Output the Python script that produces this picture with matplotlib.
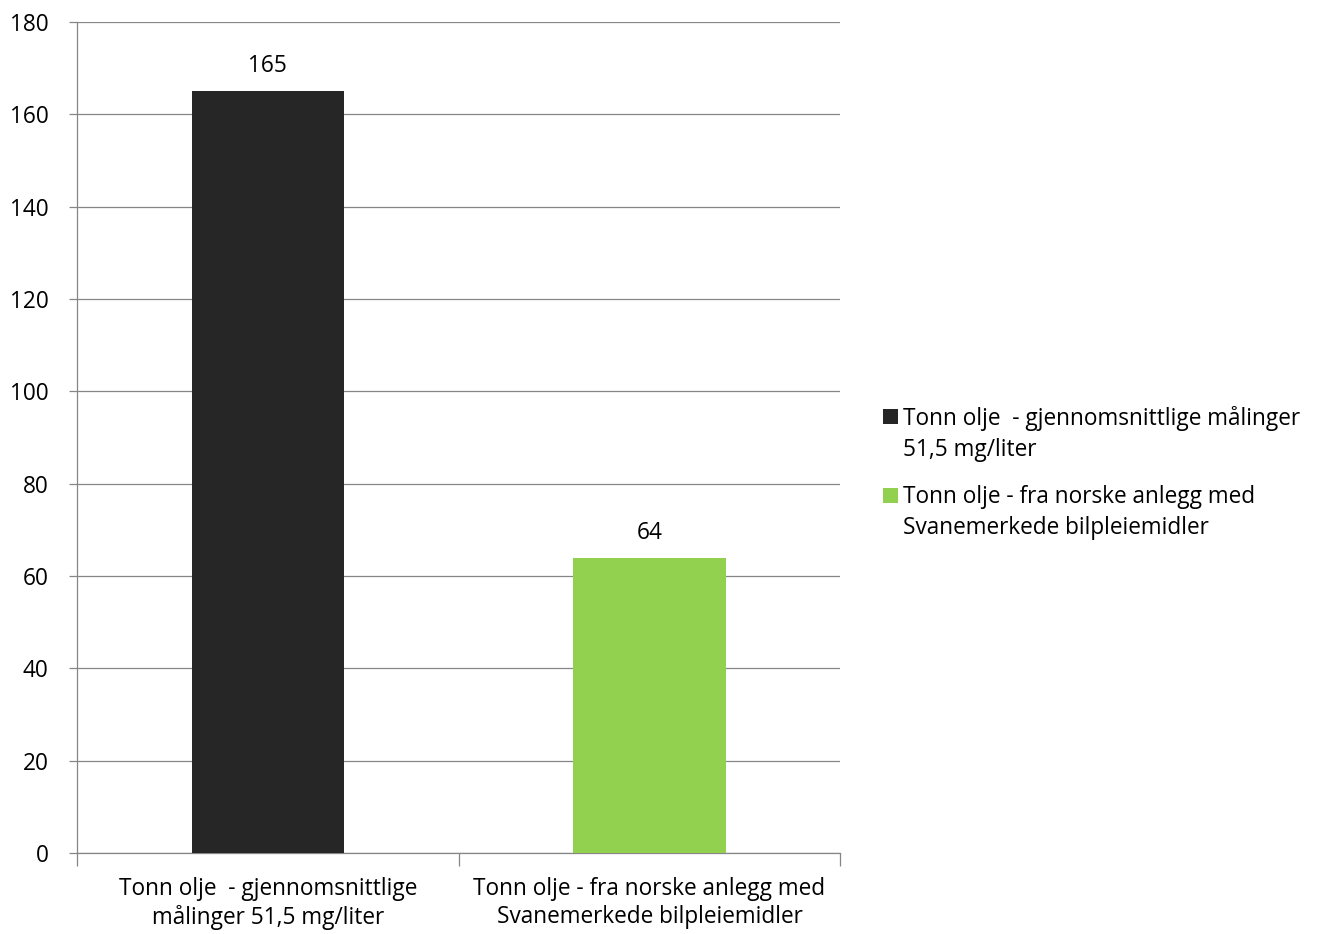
import matplotlib
matplotlib.use("Agg")
import matplotlib.pyplot as plt
from matplotlib.patches import Rectangle

plt.rcParams["font.family"] = ["Open Sans", "DejaVu Sans"]

# data
categories = ["Tonn olje  - gjennomsnittlige\nmålinger 51,5 mg/liter",
              "Tonn olje - fra norske anlegg med\nSvanemerkede bilpleiemidler"]
legend_labels = ["Tonn olje  - gjennomsnittlige målinger\n51,5 mg/liter",
                 "Tonn olje - fra norske anlegg med\nSvanemerkede bilpleiemidler"]
values = [165, 64]
colors = ["#262626", "#92d050"]
yticks = [0, 20, 40, 60, 80, 100, 120, 140, 160, 180]

FS = 16.3
W, H = 1317, 934

fig = plt.figure(figsize=(W / 100, H / 100), dpi=100)
ax = fig.add_axes([0.0585, 0.0867, 0.5795, 0.8897])

x = list(range(len(values)))
bars = ax.bar(x, values, width=0.4, color=colors, zorder=3)
for b, v in zip(bars, values):
    ax.text(b.get_x() + b.get_width() / 2, v + 2.8, str(v),
            ha="center", va="bottom", fontsize=FS, color="black")

grid = "#868686"
ax.set_xlim(-0.5, 1.5)
ax.set_ylim(0, 180)
ax.set_yticks(yticks)
ax.yaxis.grid(True, color=grid, linewidth=0.9, zorder=0)
ax.set_xticks([-0.5, 0.5, 1.5])
ax.set_xticklabels([])
ax.set_xticks(x, minor=True)
ax.set_xticklabels(categories, minor=True, fontsize=FS, linespacing=1.25)
ax.tick_params(axis="x", which="minor", length=0, pad=17)
ax.tick_params(axis="x", which="major", length=9, color=grid, width=0.9)
ax.tick_params(axis="y", length=6, color=grid, width=0.9, labelsize=FS, pad=14.5)
for s in ["top", "right"]:
    ax.spines[s].set_visible(False)
for s in ["left", "bottom"]:
    ax.spines[s].set_color(grid)
    ax.spines[s].set_linewidth(0.9)

# legend drawn by hand so the marker sits beside the first text line
entry_tops = [409, 488]  # pixel rows of marker tops
for top, c, lab in zip(entry_tops, colors, legend_labels):
    fig.add_artist(Rectangle((883 / W, 1 - (top + 15) / H), 15 / W, 15 / H,
                             transform=fig.transFigure, facecolor=c,
                             edgecolor="none"))
    fig.text(903 / W, 1 - (top - 3) / H, lab, fontsize=FS, ha="left",
             va="top", linespacing=1.4)

fig.savefig("out.png", dpi=100)
